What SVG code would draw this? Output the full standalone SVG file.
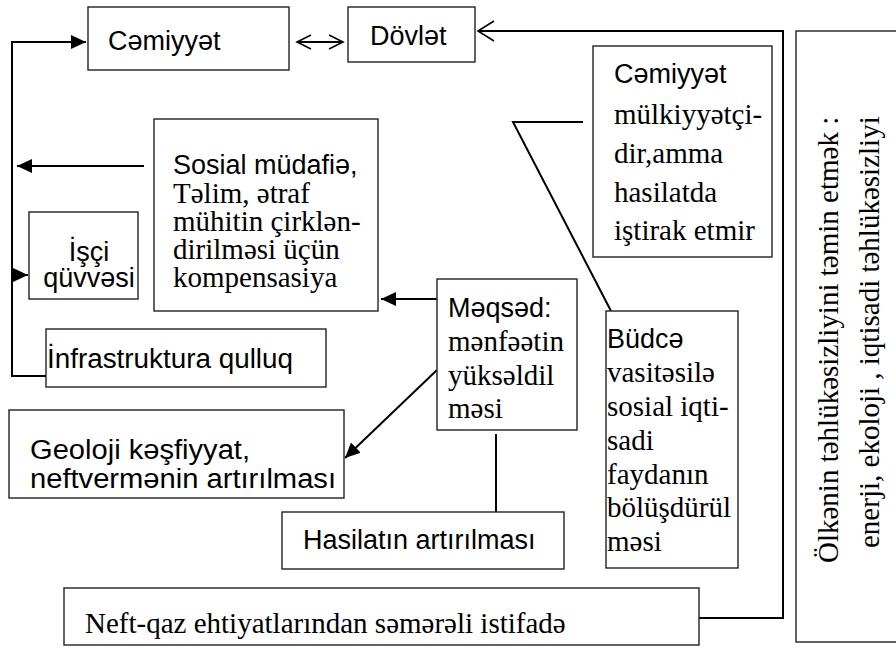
<svg xmlns="http://www.w3.org/2000/svg" width="896" height="648" viewBox="0 0 896 648">
<defs>
<style>
.box{fill:#fff;stroke:#222;stroke-width:1.4}
.con{fill:none;stroke:#000;stroke-width:2}
.sans{font-family:"Liberation Sans",Arial,sans-serif;font-size:27px;fill:#000}
.serif{font-family:"Liberation Serif","Times New Roman",serif;font-size:29px;fill:#000}
</style>
<marker id="fill" markerUnits="userSpaceOnUse" markerWidth="16" markerHeight="16" refX="15" refY="7" orient="auto">
<path d="M0,0 L15,7 L0,14 z" fill="#000"/>
</marker>
<marker id="open" markerUnits="userSpaceOnUse" markerWidth="18" markerHeight="18" refX="15" refY="8" orient="auto-start-reverse">
<path d="M1,1 L15,8 L1,15" fill="none" stroke="#000" stroke-width="1.6"/>
</marker>
<marker id="open2" markerUnits="userSpaceOnUse" markerWidth="20" markerHeight="24" refX="17" refY="11" orient="auto">
<path d="M1,1 L17,11 L1,21" fill="none" stroke="#000" stroke-width="1.6"/>
</marker>
</defs>

<g id="connectors">
<path class="con" d="M46,376 L12,376 L12,42 L86,42" marker-end="url(#fill)"/>
<path class="con" d="M144,166 L17,166" marker-end="url(#fill)"/>
<path class="con" d="M12,275 L28,275" marker-end="url(#fill)"/>
<path class="con" d="M437,299 L381,299" marker-end="url(#fill)"/>
<path class="con" d="M437,370 L345,458" marker-end="url(#fill)"/>
<line class="con" x1="297" y1="42" x2="343" y2="42" marker-start="url(#open)" marker-end="url(#open)"/>
<path class="con" d="M699,618 L783,618 L783,31 L478,31" marker-end="url(#open2)"/>
<path class="con" d="M583,122 L513,122 L611,311" stroke-width="1.6"/>
<path class="con" d="M496,434 L496,512"/>
</g>

<g id="cemiyyet">
<rect class="box" x="88" y="7" width="201" height="63"/>
<text class="sans" x="108" y="50">Cəmiyyət</text>
</g>

<g id="dovlet">
<rect class="box" x="348" y="7" width="127" height="55"/>
<text class="sans" x="370" y="45">Dövlət</text>
</g>

<g id="cemiyyet-mulkiyyetci">
<rect class="box" x="593" y="46" width="179" height="211"/>
<text class="sans" x="614" y="83">Cəmiyyət</text>
<text class="serif" x="614" y="124">mülkiyyətçi-</text>
<text class="serif" x="614" y="163">dir,amma</text>
<text class="serif" x="614" y="202">hasilatda</text>
<text class="serif" x="614" y="240">iştirak etmir</text>
</g>

<g id="sosial">
<rect class="box" x="154" y="119" width="224" height="192"/>
<text class="sans" x="173" y="174">Sosial müdafiə,</text>
<text class="serif" x="173" y="203">Təlim, ətraf</text>
<text class="serif" x="173" y="231">mühitin çirklən-</text>
<text class="serif" x="173" y="259">dirilməsi üçün</text>
<text class="serif" x="173" y="287">kompensasiya</text>
</g>

<g id="isci">
<rect class="box" x="29" y="212" width="109" height="87"/>
<text class="sans" x="89" y="261" text-anchor="middle">İşçi</text>
<text class="sans" x="89" y="287" text-anchor="middle">qüvvəsi</text>
</g>

<g id="infrastruktura">
<rect class="box" x="46" y="329" width="280" height="58"/>
<text class="sans" x="47" y="368" textLength="246" lengthAdjust="spacingAndGlyphs">İnfrastruktura qulluq</text>
</g>

<g id="meqsed">
<rect class="box" x="437" y="279" width="140" height="151"/>
<text class="sans" x="448" y="317">Məqsəd:</text>
<text class="serif" x="448" y="351">mənfəətin</text>
<text class="serif" x="448" y="385">yüksəldil</text>
<text class="serif" x="448" y="418">məsi</text>
</g>

<g id="geoloji">
<rect class="box" x="9" y="410" width="335" height="88"/>
<text class="sans" x="30" y="459" textLength="220" lengthAdjust="spacingAndGlyphs">Geoloji kəşfiyyat,</text>
<text class="sans" x="30" y="488" textLength="306" lengthAdjust="spacingAndGlyphs">neftvermənin artırılması</text>
</g>

<g id="hasilat">
<rect class="box" x="282" y="512" width="282" height="57"/>
<text class="sans" x="303" y="549">Hasilatın artırılması</text>
</g>

<g id="budce">
<rect class="box" x="606" y="311" width="132" height="257"/>
<text class="sans" x="607" y="348">Büdcə</text>
<text class="serif" x="607" y="382">vasitəsilə</text>
<text class="serif" x="607" y="416">sosial iqti-</text>
<text class="serif" x="607" y="450">sadi</text>
<text class="serif" x="607" y="484">faydanın</text>
<text class="serif" x="607" y="517">bölüşdürül</text>
<text class="serif" x="607" y="551">məsi</text>
</g>

<g id="neft-qaz">
<rect class="box" x="64" y="588" width="635" height="57"/>
<text class="serif" x="85" y="633">Neft-qaz ehtiyatlarından səmərəli istifadə</text>
</g>

<g id="olkenin">
<rect class="box" x="796" y="31" width="110" height="611"/>
<text class="serif" transform="translate(838,563) rotate(-90)">Ölkənin təhlükəsizliyini təmin etmək :</text>
<text class="serif" transform="translate(879,548) rotate(-90)">enerji, ekoloji , iqtisadi təhlükəsizliyi</text>
</g>
</svg>
